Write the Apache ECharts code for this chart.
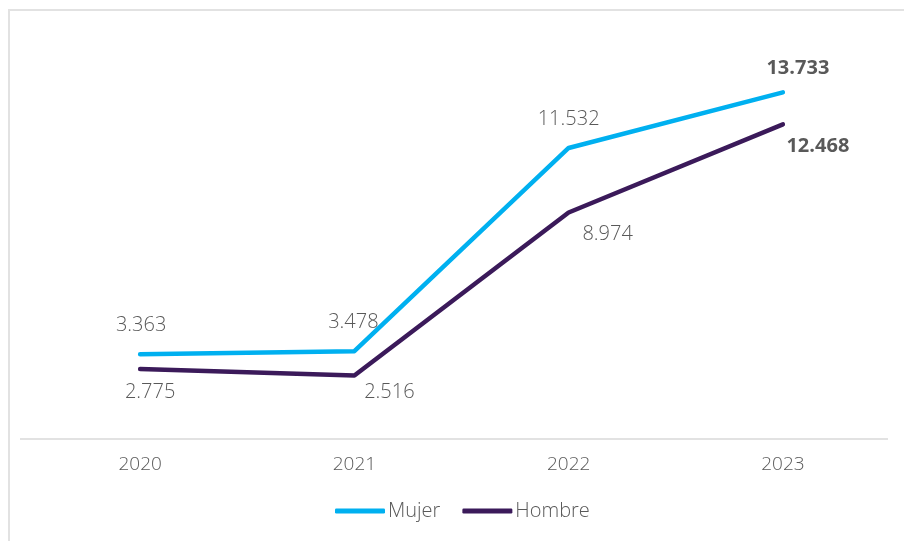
<!DOCTYPE html>
<html><head><meta charset="utf-8">
<script src="https://cdn.jsdelivr.net/npm/echarts@6/dist/echarts.min.js"></script>
<style>html,body{margin:0;padding:0;background:#fff}#c{width:904px;height:541px}</style>
</head><body><div id="c"></div>
<script>
const categories = ['2020','2021','2022','2023'];
const mujer = [3.363, 3.478, 11.532, 13.733];
const hombre = [2.775, 2.516, 8.974, 12.468];
const mujerLabels = ['3.363','3.478','11.532','13.733'];
const hombreLabels = ['2.775','2.516','8.974','12.468'];

const mujerOffsets = [[1,-29],[-1,-29],[0,-29],[15,-24]];
const hombreOffsets = [[10,23],[35,17],[39,22],[35,22]];
const boldIdx = 3;
const FONT = '"Open Sans", sans-serif';

function mk(vals, labels, offs){
  return vals.map((v,i)=>({value:v, label:{offset:offs[i], formatter:labels[i], fontWeight: i===boldIdx?'bold':300}}));
}

const chart = echarts.init(document.getElementById('c'), null, {renderer:'canvas'});
chart.setOption({
  animation:false,
  textStyle:{fontFamily:FONT},
  graphic:[
    {type:'rect', silent:true, shape:{x:9,y:10,width:1200,height:1200}, style:{fill:'none', stroke:'#e2e2e2', lineWidth:2}},
    {type:'line', silent:true, shape:{x1:20,y1:439,x2:888,y2:439}, style:{stroke:'#d9d9d9', lineWidth:1.5}}
  ],
  grid:{left:33, right:14, top:35.2, bottom:102, containLabel:false},
  legend:{
    data:['Mujer','Hombre'], top:501, left:335, padding:0,
    itemWidth:50, itemHeight:5, itemGap:22, icon:'roundRect',
    textStyle:{fontFamily:FONT, fontWeight:300, fontSize:20, color:'#595959', padding:[0,0,0,-2]}
  },
  xAxis:{
    type:'category', data:categories, boundaryGap:true,
    axisLine:{show:false}, axisTick:{show:false},
    axisLabel:{fontFamily:FONT, fontWeight:300, fontSize:19, color:'#595959', margin:16}
  },
  yAxis:{type:'value', min:0, max:16, show:false, splitLine:{show:false}},
  series:[
    {name:'Mujer', type:'line', data:mk(mujer, mujerLabels, mujerOffsets),
     symbol:'circle', symbolSize:1, showSymbol:true,
     lineStyle:{color:'#00B0F0', width:4.5, cap:'round', join:'round'},
     itemStyle:{color:'#00B0F0'},
     label:{show:true, position:'inside', fontFamily:FONT, fontSize:20, color:'#595959'}},
    {name:'Hombre', type:'line', data:mk(hombre, hombreLabels, hombreOffsets),
     symbol:'circle', symbolSize:1, showSymbol:true,
     lineStyle:{color:'#3B1A5A', width:4.5, cap:'round', join:'round'},
     itemStyle:{color:'#3B1A5A'},
     label:{show:true, position:'inside', fontFamily:FONT, fontSize:20, color:'#595959'}}
  ]
});
</script></body></html>
